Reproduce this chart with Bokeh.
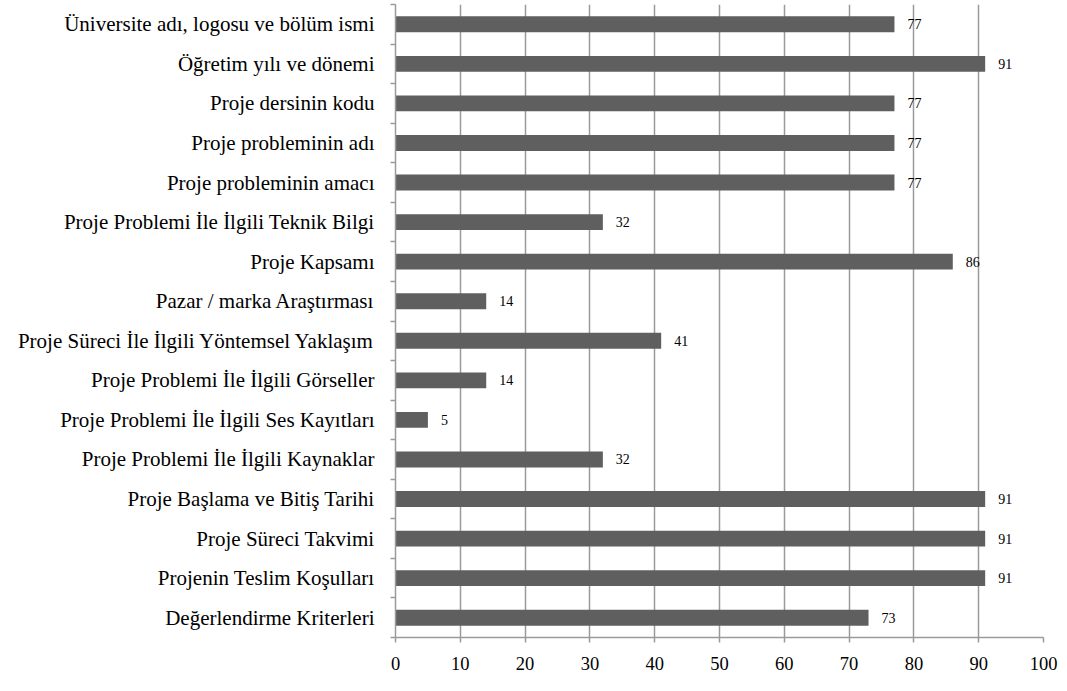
from bokeh.plotting import figure
from bokeh.models import ColumnDataSource, FixedTicker, Range1d
from bokeh.core.properties import value
from bokeh.embed import file_html
from bokeh.resources import INLINE

categories = [
    "Üniversite adı, logosu ve bölüm ismi",
    "Öğretim yılı ve dönemi",
    "Proje dersinin kodu",
    "Proje probleminin adı",
    "Proje probleminin amacı",
    "Proje Problemi İle İlgili Teknik Bilgi",
    "Proje Kapsamı",
    "Pazar / marka Araştırması",
    "Proje Süreci İle İlgili Yöntemsel Yaklaşım",
    "Proje Problemi İle İlgili Görseller",
    "Proje Problemi İle İlgili Ses Kayıtları",
    "Proje Problemi İle İlgili Kaynaklar",
    "Proje Başlama ve Bitiş Tarihi",
    "Proje Süreci Takvimi",
    "Projenin Teslim Koşulları",
    "Değerlendirme Kriterleri",
]
values = [77, 91, 77, 77, 77, 32, 86, 14, 41, 14, 5, 32, 91, 91, 91, 73]
x_ticks = [0, 10, 20, 30, 40, 50, 60, 70, 80, 90, 100]

n = len(categories)
ypos = [n - i - 0.5 for i in range(n)]
src = ColumnDataSource(dict(y=ypos, v=values, lab=[str(v) for v in values], cat=categories))

FONT = "Liberation Serif"
GRAY = "#9a9a9a"

p = figure(width=1059, height=683, output_backend="svg", toolbar_location=None,
           x_range=Range1d(0, 100), y_range=Range1d(0, 16),
           min_border_left=395, min_border_right=16, min_border_top=4, min_border_bottom=46)
p.outline_line_color = None

p.hbar(y="y", right="v", left=0, height=0.4, source=src, fill_color="#5f5f5f", line_color=None)
p.text(x="v", y="y", text="lab", source=src, x_offset=13, text_align="left", text_baseline="middle",
       text_font=value(FONT), text_font_size="14px", text_color="#000000")

# x axis
p.xaxis.ticker = FixedTicker(ticks=x_ticks)
p.xaxis.axis_line_color = GRAY
p.xaxis.axis_line_width = 1.5
p.xaxis.major_tick_line_color = GRAY
p.xaxis.major_tick_line_width = 1.5
p.xaxis.major_tick_out = 5
p.xaxis.major_tick_in = 0
p.xaxis.minor_tick_line_color = None
p.xaxis.major_label_text_font = FONT
p.xaxis.major_label_text_font_size = "18.5px"
p.xaxis.major_label_text_color = "#000000"
p.xaxis.major_label_standoff = 14

p.xgrid.ticker = FixedTicker(ticks=x_ticks)
p.xgrid.grid_line_color = GRAY
p.xgrid.grid_line_width = 1.5
p.ygrid.grid_line_color = None

# y axis: labels at centers, ticks at boundaries
p.yaxis.ticker = FixedTicker(ticks=ypos, minor_ticks=list(range(n + 1)))
p.yaxis.major_label_overrides = {y: c for y, c in zip(ypos, categories)}
p.yaxis.axis_line_color = GRAY
p.yaxis.axis_line_width = 1.5
p.yaxis.major_tick_line_color = None
p.yaxis.minor_tick_line_color = GRAY
p.yaxis.minor_tick_line_width = 1.5
p.yaxis.minor_tick_out = 5
p.yaxis.minor_tick_in = 0
p.yaxis.major_label_text_font = FONT
p.yaxis.major_label_text_font_size = "21px"
p.yaxis.major_label_text_color = "#000000"
p.yaxis.major_label_standoff = 15

open("out.html", "w").write(file_html(p, INLINE))
